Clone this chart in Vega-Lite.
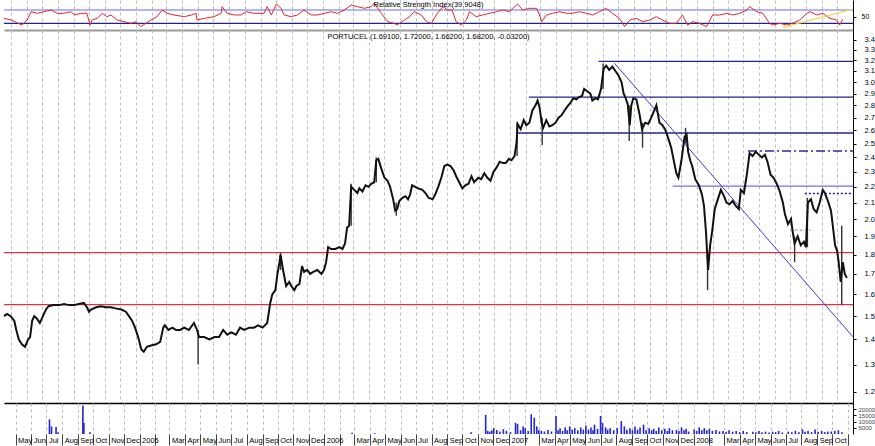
{
"$schema":"https://vega.github.io/schema/vega-lite/v6.json",
"padding":0,
"background":"white",
"spacing":0,
"resolve":{"scale":{"color":"independent","strokeDash":"independent"}},
"config":{"view":{"stroke":null},"font":"Liberation Sans","axis":{"labelFont":"Liberation Sans","labelFontSize":7.5,"labelColor":"#000","tickColor":"#000","domainColor":"#000","title":null},"title":{"font":"Liberation Sans","fontSize":7.5,"fontWeight":"normal","color":"#000"}},
"datasets":{
"price":[
{"d":"2004-04-18","c":1.50},{"d":"2004-04-24","c":1.51},{"d":"2004-05-01","c":1.50},{"d":"2004-05-08","c":1.48},{"d":"2004-05-12","c":1.44},{"d":"2004-05-17","c":1.40},{"d":"2004-05-23","c":1.38},{"d":"2004-05-29","c":1.37},{"d":"2004-06-04","c":1.40},{"d":"2004-06-08","c":1.41},{"d":"2004-06-12","c":1.48},{"d":"2004-06-16","c":1.50},{"d":"2004-06-21","c":1.49},{"d":"2004-06-27","c":1.47},{"d":"2004-07-03","c":1.50},{"d":"2004-07-09","c":1.53},{"d":"2004-07-14","c":1.545},{"d":"2004-07-24","c":1.55},{"d":"2004-08-04","c":1.55},{"d":"2004-08-13","c":1.555},{"d":"2004-08-23","c":1.55},{"d":"2004-09-02","c":1.55},{"d":"2004-09-11","c":1.555},{"d":"2004-09-21","c":1.56},{"d":"2004-09-27","c":1.54},{"d":"2004-10-01","c":1.52},{"d":"2004-10-05","c":1.53},{"d":"2004-10-15","c":1.54},{"d":"2004-10-24","c":1.545},{"d":"2004-11-03","c":1.54},{"d":"2004-11-13","c":1.54},{"d":"2004-11-22","c":1.535},{"d":"2004-12-03","c":1.53},{"d":"2004-12-12","c":1.52},{"d":"2004-12-18","c":1.50},{"d":"2004-12-24","c":1.48},{"d":"2004-12-30","c":1.45},
{"d":"2005-01-05","c":1.41},{"d":"2005-01-11","c":1.36},{"d":"2005-01-16","c":1.35},{"d":"2005-01-22","c":1.37},{"d":"2005-01-30","c":1.375},{"d":"2005-02-09","c":1.38},{"d":"2005-02-17","c":1.39},{"d":"2005-02-23","c":1.45},{"d":"2005-02-26","c":1.46},{"d":"2005-03-05","c":1.44},{"d":"2005-03-13","c":1.45},{"d":"2005-03-20","c":1.44},{"d":"2005-03-28","c":1.44},{"d":"2005-04-05","c":1.45},{"d":"2005-04-14","c":1.44},{"d":"2005-04-24","c":1.47},{"d":"2005-04-30","c":1.44},{"d":"2005-05-04","c":1.41},{"d":"2005-05-14","c":1.41},{"d":"2005-05-24","c":1.40},{"d":"2005-06-03","c":1.41},{"d":"2005-06-12","c":1.41},{"d":"2005-06-20","c":1.44},{"d":"2005-06-28","c":1.42},{"d":"2005-07-06","c":1.43},{"d":"2005-07-15","c":1.42},{"d":"2005-07-23","c":1.45},{"d":"2005-07-31","c":1.44},{"d":"2005-08-10","c":1.45},{"d":"2005-08-19","c":1.45},{"d":"2005-08-27","c":1.46},{"d":"2005-09-05","c":1.45},{"d":"2005-09-14","c":1.47},{"d":"2005-09-20","c":1.56},{"d":"2005-09-24","c":1.60},{"d":"2005-09-30","c":1.62},{"d":"2005-10-04","c":1.70},{"d":"2005-10-08","c":1.76},{"d":"2005-10-10","c":1.80},{"d":"2005-10-15","c":1.72},{"d":"2005-10-21","c":1.64},{"d":"2005-10-27","c":1.66},{"d":"2005-10-31","c":1.64},{"d":"2005-11-06","c":1.62},{"d":"2005-11-10","c":1.64},{"d":"2005-11-16","c":1.65},{"d":"2005-11-21","c":1.74},{"d":"2005-11-25","c":1.71},{"d":"2005-12-01","c":1.72},{"d":"2005-12-07","c":1.70},{"d":"2005-12-13","c":1.71},{"d":"2005-12-21","c":1.72},{"d":"2005-12-29","c":1.70},
{"d":"2006-01-03","c":1.72},{"d":"2006-01-07","c":1.76},{"d":"2006-01-11","c":1.84},{"d":"2006-01-17","c":1.83},{"d":"2006-01-25","c":1.83},{"d":"2006-02-02","c":1.84},{"d":"2006-02-08","c":1.83},{"d":"2006-02-13","c":1.86},{"d":"2006-02-17","c":1.95},{"d":"2006-02-21","c":1.96},{"d":"2006-02-25","c":2.20},{"d":"2006-03-03","c":2.18},{"d":"2006-03-09","c":2.16},{"d":"2006-03-13","c":2.19},{"d":"2006-03-19","c":2.17},{"d":"2006-03-25","c":2.21},{"d":"2006-03-31","c":2.20},{"d":"2006-04-05","c":2.22},{"d":"2006-04-11","c":2.23},{"d":"2006-04-15","c":2.38},{"d":"2006-04-19","c":2.39},{"d":"2006-04-25","c":2.32},{"d":"2006-05-01","c":2.26},{"d":"2006-05-07","c":2.24},{"d":"2006-05-12","c":2.20},{"d":"2006-05-18","c":2.12},{"d":"2006-05-22","c":2.05},{"d":"2006-05-26","c":2.06},{"d":"2006-05-30","c":2.11},{"d":"2006-06-05","c":2.13},{"d":"2006-06-11","c":2.14},{"d":"2006-06-16","c":2.12},{"d":"2006-06-20","c":2.15},{"d":"2006-06-24","c":2.21},{"d":"2006-06-30","c":2.20},{"d":"2006-07-06","c":2.19},{"d":"2006-07-14","c":2.18},{"d":"2006-07-20","c":2.16},{"d":"2006-07-26","c":2.13},{"d":"2006-08-03","c":2.12},{"d":"2006-08-08","c":2.15},{"d":"2006-08-14","c":2.20},{"d":"2006-08-20","c":2.26},{"d":"2006-08-26","c":2.34},{"d":"2006-09-01","c":2.35},{"d":"2006-09-07","c":2.34},{"d":"2006-09-13","c":2.31},{"d":"2006-09-18","c":2.27},{"d":"2006-09-24","c":2.23},{"d":"2006-09-30","c":2.19},{"d":"2006-10-06","c":2.21},{"d":"2006-10-12","c":2.22},{"d":"2006-10-18","c":2.27},{"d":"2006-10-23","c":2.23},{"d":"2006-10-31","c":2.26},{"d":"2006-11-06","c":2.25},{"d":"2006-11-12","c":2.29},{"d":"2006-11-18","c":2.26},{"d":"2006-11-24","c":2.24},{"d":"2006-11-30","c":2.30},{"d":"2006-12-06","c":2.33},{"d":"2006-12-12","c":2.37},{"d":"2006-12-18","c":2.36},{"d":"2006-12-24","c":2.36},{"d":"2006-12-30","c":2.39},
{"d":"2007-01-04","c":2.38},{"d":"2007-01-10","c":2.41},{"d":"2007-01-14","c":2.51},{"d":"2007-01-16","c":2.65},{"d":"2007-01-22","c":2.61},{"d":"2007-01-28","c":2.68},{"d":"2007-02-02","c":2.64},{"d":"2007-02-08","c":2.66},{"d":"2007-02-14","c":2.76},{"d":"2007-02-20","c":2.80},{"d":"2007-02-24","c":2.84},{"d":"2007-02-28","c":2.78},{"d":"2007-03-04","c":2.66},{"d":"2007-03-07","c":2.62},{"d":"2007-03-13","c":2.68},{"d":"2007-03-19","c":2.63},{"d":"2007-03-25","c":2.64},{"d":"2007-03-31","c":2.66},{"d":"2007-04-06","c":2.70},{"d":"2007-04-12","c":2.72},{"d":"2007-04-18","c":2.76},{"d":"2007-04-23","c":2.79},{"d":"2007-04-29","c":2.82},{"d":"2007-05-05","c":2.86},{"d":"2007-05-11","c":2.85},{"d":"2007-05-16","c":2.87},{"d":"2007-05-22","c":2.88},{"d":"2007-05-26","c":2.94},{"d":"2007-06-01","c":2.92},{"d":"2007-06-07","c":2.90},{"d":"2007-06-11","c":2.84},{"d":"2007-06-17","c":2.86},{"d":"2007-06-22","c":2.85},{"d":"2007-06-28","c":2.94},{"d":"2007-07-03","c":3.12},{"d":"2007-07-08","c":3.15},{"d":"2007-07-14","c":3.11},{"d":"2007-07-20","c":3.14},{"d":"2007-07-26","c":3.10},{"d":"2007-08-01","c":3.06},{"d":"2007-08-07","c":3.00},{"d":"2007-08-11","c":2.90},{"d":"2007-08-15","c":2.86},{"d":"2007-08-19","c":2.81},{"d":"2007-08-23","c":2.64},{"d":"2007-08-26","c":2.80},{"d":"2007-08-30","c":2.86},{"d":"2007-09-05","c":2.85},{"d":"2007-09-11","c":2.73},{"d":"2007-09-16","c":2.61},{"d":"2007-09-22","c":2.66},{"d":"2007-09-28","c":2.65},{"d":"2007-10-04","c":2.70},{"d":"2007-10-10","c":2.76},{"d":"2007-10-14","c":2.80},{"d":"2007-10-20","c":2.66},{"d":"2007-10-26","c":2.64},{"d":"2007-11-01","c":2.60},{"d":"2007-11-07","c":2.53},{"d":"2007-11-12","c":2.47},{"d":"2007-11-18","c":2.36},{"d":"2007-11-22","c":2.29},{"d":"2007-11-26","c":2.26},{"d":"2007-12-02","c":2.38},{"d":"2007-12-08","c":2.55},{"d":"2007-12-12","c":2.57},{"d":"2007-12-15","c":2.44},{"d":"2007-12-19","c":2.38},{"d":"2007-12-23","c":2.34},{"d":"2007-12-29","c":2.25},
{"d":"2008-01-05","c":2.21},{"d":"2008-01-11","c":2.15},{"d":"2008-01-15","c":2.08},{"d":"2008-01-19","c":1.92},{"d":"2008-01-23","c":1.72},{"d":"2008-01-27","c":1.85},{"d":"2008-01-31","c":1.93},{"d":"2008-02-05","c":2.06},{"d":"2008-02-11","c":2.12},{"d":"2008-02-17","c":2.18},{"d":"2008-02-23","c":2.14},{"d":"2008-02-28","c":2.10},{"d":"2008-03-05","c":2.09},{"d":"2008-03-11","c":2.11},{"d":"2008-03-17","c":2.08},{"d":"2008-03-23","c":2.06},{"d":"2008-03-27","c":2.18},{"d":"2008-04-02","c":2.16},{"d":"2008-04-08","c":2.29},{"d":"2008-04-13","c":2.43},{"d":"2008-04-19","c":2.41},{"d":"2008-04-25","c":2.44},{"d":"2008-05-01","c":2.42},{"d":"2008-05-07","c":2.40},{"d":"2008-05-13","c":2.42},{"d":"2008-05-18","c":2.37},{"d":"2008-05-24","c":2.28},{"d":"2008-05-30","c":2.26},{"d":"2008-06-05","c":2.22},{"d":"2008-06-11","c":2.17},{"d":"2008-06-17","c":2.10},{"d":"2008-06-21","c":2.03},{"d":"2008-06-27","c":1.97},{"d":"2008-07-03","c":2.00},{"d":"2008-07-06","c":1.93},{"d":"2008-07-10","c":1.86},{"d":"2008-07-16","c":1.90},{"d":"2008-07-22","c":1.85},{"d":"2008-07-28","c":1.87},{"d":"2008-08-01","c":1.84},{"d":"2008-08-05","c":2.10},{"d":"2008-08-11","c":2.12},{"d":"2008-08-16","c":2.06},{"d":"2008-08-22","c":2.04},{"d":"2008-08-28","c":2.10},{"d":"2008-09-03","c":2.18},{"d":"2008-09-07","c":2.16},{"d":"2008-09-13","c":2.11},{"d":"2008-09-19","c":2.05},{"d":"2008-09-23","c":1.95},{"d":"2008-09-27","c":1.85},{"d":"2008-10-01","c":1.82},{"d":"2008-10-04","c":1.76},{"d":"2008-10-08","c":1.66},{"d":"2008-10-12","c":1.76},{"d":"2008-10-16","c":1.70},{"d":"2008-10-20","c":1.68}
],
"spikes":[
{"d":"2005-05-02","lo":1.30,"hi":1.44},{"d":"2005-10-10","lo":1.72,"hi":1.81},{"d":"2006-02-25","lo":1.96,"hi":2.22},{"d":"2006-04-15","lo":2.23,"hi":2.40},{"d":"2006-05-24","lo":2.02,"hi":2.10},{"d":"2007-01-15","lo":2.41,"hi":2.66},{"d":"2007-03-05","lo":2.49,"hi":2.70},{"d":"2007-07-02","lo":2.94,"hi":3.17},{"d":"2007-08-22","lo":2.52,"hi":2.80},{"d":"2007-09-17","lo":2.47,"hi":2.66},{"d":"2007-12-10","lo":2.50,"hi":2.62},{"d":"2008-01-22","lo":1.62,"hi":1.80},{"d":"2008-07-10","lo":1.76,"hi":1.90},{"d":"2008-08-04","lo":1.84,"hi":2.13},{"d":"2008-10-10","lo":1.55,"hi":1.96}
],
"levels":[
{"s":"2007-06-23","e":"2008-11-01","p":3.19,"k":"res"},
{"s":"2007-02-07","e":"2008-11-01","p":2.87,"k":"res"},
{"s":"2007-01-14","e":"2008-11-01","p":2.58,"k":"res"},
{"s":"2008-04-10","e":"2008-11-01","p":2.446,"k":"dashdot"},
{"s":"2007-11-15","e":"2008-11-01","p":2.204,"k":"light"},
{"s":"2008-07-30","e":"2008-11-01","p":2.157,"k":"dotted"},
{"s":"2008-07-10","e":"2008-08-11","p":1.935,"k":"gray"},
{"s":"2004-04-18","e":"2008-11-01","p":1.811,"k":"red"},
{"s":"2004-04-18","e":"2008-11-01","p":1.552,"k":"red"}
],
"trend":[{"s":"2007-07-24","e":"2008-11-01","p1":3.173,"p2":1.411}],
"rsiLevels":[{"v":70,"k":"upper"},{"v":30,"k":"lower"}],
"rsiTrend":[{"d":"2008-06-17","r":18},{"d":"2008-10-30","r":72}],
"rsi":[
{"d":"2004-04-18","r":45},{"d":"2004-05-02","r":40},{"d":"2004-05-13","r":32},{"d":"2004-05-23","r":25},{"d":"2004-06-02","r":40},{"d":"2004-06-10","r":65},{"d":"2004-06-22","r":60},{"d":"2004-07-05","r":65},{"d":"2004-07-19","r":70},{"d":"2004-07-31","r":60},{"d":"2004-08-13","r":60},{"d":"2004-08-27","r":65},{"d":"2004-09-02","r":55},{"d":"2004-09-15","r":60},{"d":"2004-09-27","r":60},{"d":"2004-10-03","r":25},{"d":"2004-10-07","r":40},{"d":"2004-10-17","r":45},{"d":"2004-10-27","r":60},{"d":"2004-11-05","r":50},{"d":"2004-11-13","r":55},{"d":"2004-11-25","r":40},{"d":"2004-12-08","r":35},{"d":"2004-12-22","r":30},{"d":"2005-01-01","r":35},{"d":"2005-01-10","r":20},{"d":"2005-01-20","r":30},{"d":"2005-01-30","r":40},{"d":"2005-02-11","r":50},{"d":"2005-02-21","r":70},{"d":"2005-03-03","r":60},{"d":"2005-03-16","r":55},{"d":"2005-04-05","r":50},{"d":"2005-04-19","r":55},{"d":"2005-04-28","r":60},{"d":"2005-04-30","r":40},{"d":"2005-05-14","r":45},{"d":"2005-06-02","r":50},{"d":"2005-06-16","r":60},{"d":"2005-06-18","r":80},{"d":"2005-06-28","r":60},{"d":"2005-07-12","r":55},{"d":"2005-07-25","r":55},{"d":"2005-08-04","r":65},{"d":"2005-08-19","r":60},{"d":"2005-09-08","r":60},{"d":"2005-09-14","r":80},{"d":"2005-09-22","r":55},{"d":"2005-10-02","r":88},{"d":"2005-10-11","r":75},{"d":"2005-10-17","r":55},{"d":"2005-10-31","r":50},{"d":"2005-11-12","r":55},{"d":"2005-11-25","r":70},{"d":"2005-12-09","r":55},{"d":"2005-12-21","r":55},{"d":"2006-01-04","r":60},{"d":"2006-01-17","r":65},{"d":"2006-01-29","r":60},{"d":"2006-02-12","r":70},{"d":"2006-02-25","r":85},{"d":"2006-03-09","r":80},{"d":"2006-03-23","r":75},{"d":"2006-04-05","r":80},{"d":"2006-04-11","r":90},{"d":"2006-04-25","r":60},{"d":"2006-05-07","r":35},{"d":"2006-05-20","r":30},{"d":"2006-05-26","r":25},{"d":"2006-06-09","r":40},{"d":"2006-06-19","r":50},{"d":"2006-06-28","r":65},{"d":"2006-07-12","r":55},{"d":"2006-07-22","r":35},{"d":"2006-08-01","r":30},{"d":"2006-08-10","r":55},{"d":"2006-08-20","r":75},{"d":"2006-08-26","r":80},{"d":"2006-08-30","r":70},{"d":"2006-09-10","r":70},{"d":"2006-09-18","r":35},{"d":"2006-09-28","r":25},{"d":"2006-10-08","r":40},{"d":"2006-10-14","r":65},{"d":"2006-10-27","r":50},{"d":"2006-11-08","r":55},{"d":"2006-11-22","r":60},{"d":"2006-12-06","r":65},{"d":"2006-12-18","r":70},{"d":"2006-12-31","r":65},{"d":"2007-01-16","r":88},{"d":"2007-01-26","r":70},{"d":"2007-02-08","r":75},{"d":"2007-02-22","r":75},{"d":"2007-02-28","r":55},{"d":"2007-03-04","r":35},{"d":"2007-03-13","r":55},{"d":"2007-03-25","r":60},{"d":"2007-04-08","r":65},{"d":"2007-04-22","r":60},{"d":"2007-05-03","r":60},{"d":"2007-05-17","r":65},{"d":"2007-05-31","r":60},{"d":"2007-06-12","r":55},{"d":"2007-06-25","r":65},{"d":"2007-07-08","r":75},{"d":"2007-07-20","r":60},{"d":"2007-08-03","r":45},{"d":"2007-08-13","r":20},{"d":"2007-08-23","r":40},{"d":"2007-09-05","r":45},{"d":"2007-09-17","r":35},{"d":"2007-10-01","r":40},{"d":"2007-10-14","r":50},{"d":"2007-10-26","r":40},{"d":"2007-11-09","r":30},{"d":"2007-11-22","r":30},{"d":"2007-12-04","r":55},{"d":"2007-12-14","r":25},{"d":"2007-12-24","r":35},{"d":"2008-01-06","r":30},{"d":"2008-01-20","r":20},{"d":"2008-02-01","r":55},{"d":"2008-02-14","r":55},{"d":"2008-02-28","r":60},{"d":"2008-03-11","r":55},{"d":"2008-03-25","r":60},{"d":"2008-04-08","r":70},{"d":"2008-04-13","r":80},{"d":"2008-04-27","r":65},{"d":"2008-05-09","r":60},{"d":"2008-05-22","r":30},{"d":"2008-05-28","r":25},{"d":"2008-06-11","r":30},{"d":"2008-06-25","r":25},{"d":"2008-07-06","r":30},{"d":"2008-07-20","r":40},{"d":"2008-08-03","r":60},{"d":"2008-08-09","r":65},{"d":"2008-08-22","r":55},{"d":"2008-09-03","r":60},{"d":"2008-09-17","r":45},{"d":"2008-09-30","r":40},{"d":"2008-10-06","r":25},{"d":"2008-10-12","r":42}
],
"volume":[
{"d":"2004-07-07","v":11700},{"d":"2004-07-11","v":6000},{"d":"2004-07-20","v":5600},{"d":"2004-07-24","v":1500},{"d":"2004-09-11","v":22800},{"d":"2004-09-13","v":8900},{"d":"2004-09-25","v":1400},{"d":"2006-02-25","v":1000},{"d":"2006-04-11","v":700},{"d":"2006-10-18","v":1400},{"d":"2006-11-16","v":15200},{"d":"2006-11-20","v":2500},{"d":"2006-11-24","v":1900},{"d":"2006-11-28","v":3000},{"d":"2006-12-02","v":4700},{"d":"2006-12-08","v":3300},{"d":"2006-12-14","v":2000},{"d":"2006-12-21","v":3900},{"d":"2006-12-27","v":2500},{"d":"2007-01-04","v":1500},{"d":"2007-01-14","v":8900},{"d":"2007-01-18","v":8000},{"d":"2007-01-24","v":3000},{"d":"2007-01-29","v":6100},{"d":"2007-02-02","v":4700},{"d":"2007-02-08","v":2500},{"d":"2007-02-14","v":15800},{"d":"2007-02-20","v":13000},{"d":"2007-02-25","v":6100},{"d":"2007-03-01","v":3000},{"d":"2007-03-06","v":2500},{"d":"2007-03-12","v":2000},{"d":"2007-03-19","v":3300},{"d":"2007-03-26","v":2000},{"d":"2007-04-04","v":14400},{"d":"2007-04-08","v":3000},{"d":"2007-04-12","v":4700},{"d":"2007-04-17","v":2500},{"d":"2007-04-22","v":5300},{"d":"2007-04-26","v":3000},{"d":"2007-05-01","v":6100},{"d":"2007-05-06","v":3500},{"d":"2007-05-11","v":4700},{"d":"2007-05-17","v":3000},{"d":"2007-05-23","v":5300},{"d":"2007-05-28","v":3500},{"d":"2007-06-02","v":6900},{"d":"2007-06-07","v":3500},{"d":"2007-06-12","v":5300},{"d":"2007-06-16","v":3000},{"d":"2007-06-19","v":7500},{"d":"2007-06-25","v":4000},{"d":"2007-07-01","v":14400},{"d":"2007-07-05","v":8900},{"d":"2007-07-11","v":5300},{"d":"2007-07-15","v":3500},{"d":"2007-07-20","v":4700},{"d":"2007-07-27","v":3000},{"d":"2007-08-03","v":4700},{"d":"2007-08-11","v":10300},{"d":"2007-08-17","v":6100},{"d":"2007-08-22","v":3500},{"d":"2007-08-28","v":4700},{"d":"2007-09-02","v":3000},{"d":"2007-09-07","v":6100},{"d":"2007-09-12","v":3500},{"d":"2007-09-17","v":5300},{"d":"2007-09-24","v":7500},{"d":"2007-09-29","v":3000},{"d":"2007-10-05","v":4700},{"d":"2007-10-10","v":3000},{"d":"2007-10-14","v":4200},{"d":"2007-10-19","v":2500},{"d":"2007-10-24","v":5300},{"d":"2007-10-30","v":3000},{"d":"2007-11-05","v":4200},{"d":"2007-11-10","v":2500},{"d":"2007-11-14","v":4700},{"d":"2007-11-20","v":3000},{"d":"2007-11-28","v":3300},{"d":"2007-12-03","v":2500},{"d":"2007-12-08","v":5300},{"d":"2007-12-13","v":3000},{"d":"2007-12-17","v":4200},{"d":"2007-12-22","v":2000},{"d":"2008-01-02","v":3600},{"d":"2008-01-07","v":2500},{"d":"2008-01-12","v":5300},{"d":"2008-01-17","v":3000},{"d":"2008-01-22","v":4700},{"d":"2008-01-27","v":3000},{"d":"2008-02-01","v":4200},{"d":"2008-02-07","v":2500},{"d":"2008-02-14","v":3300},{"d":"2008-02-21","v":2000},{"d":"2008-02-28","v":2500},{"d":"2008-03-05","v":1800},{"d":"2008-03-11","v":3000},{"d":"2008-03-18","v":1800},{"d":"2008-03-25","v":2500},{"d":"2008-04-01","v":1500},{"d":"2008-04-08","v":2500},{"d":"2008-04-15","v":1500},{"d":"2008-04-27","v":1900},{"d":"2008-05-03","v":1500},{"d":"2008-05-09","v":2500},{"d":"2008-05-15","v":1500},{"d":"2008-05-22","v":1900},{"d":"2008-05-29","v":1200},{"d":"2008-06-05","v":1900},{"d":"2008-06-11","v":1500},{"d":"2008-06-17","v":2500},{"d":"2008-06-24","v":1200},{"d":"2008-07-06","v":1900},{"d":"2008-07-13","v":1500},{"d":"2008-07-20","v":2500},{"d":"2008-07-27","v":1500},{"d":"2008-08-03","v":3600},{"d":"2008-08-08","v":1800},{"d":"2008-08-14","v":2500},{"d":"2008-08-21","v":1500},{"d":"2008-08-28","v":3600},{"d":"2008-09-03","v":1800},{"d":"2008-09-10","v":2500},{"d":"2008-09-16","v":1500},{"d":"2008-09-22","v":1900},{"d":"2008-09-29","v":2000},{"d":"2008-10-06","v":2500},{"d":"2008-10-13","v":3000},{"d":"2008-10-20","v":1500}
]
},
"vconcat":[
{
"width":849,"height":30,
"title":{"text":"Relative Strength Index(39.9048)","offset":-8,"anchor":"middle","frame":"group"},
"layer":[
{"data":{"name":"rsiLevels"},"mark":{"type":"rule","strokeWidth":1.2},
 "encoding":{"y":{"field":"v","type":"quantitative","scale":{"domain":[10,100],"nice":false,"zero":false},"axis":{"orient":"right","values":[50],"tickSize":3,"labelPadding":5,"grid":false,"labelFontSize":7}},
 "color":{"field":"k","type":"nominal","scale":{"domain":["upper","lower"],"range":["#6a6aee","#22228c"]},"legend":null}}},
{"data":{"name":"rsi"},"mark":{"type":"line","color":"#e3262e","strokeWidth":1,"clip":true},
 "encoding":{"x":{"field":"d","type":"temporal","scale":{"type":"utc","domain":[{"year":2004,"month":4,"date":18,"utc":true},{"year":2008,"month":11,"date":1,"utc":true}]},
   "axis":{"orient":"bottom","labels":false,"ticks":false,"domain":true,"domainColor":"#9a9a9a","domainWidth":2,"grid":true,"gridColor":"#bdbdbd","gridDash":[3,3],"gridWidth":1,"tickCount":{"interval":"month","step":1}}},
  "y":{"field":"r","type":"quantitative","scale":{"domain":[10,100],"nice":false,"zero":false}}}},
{"data":{"name":"rsiTrend"},"mark":{"type":"line","color":"#ecd858","strokeWidth":1.2,"clip":true},
 "encoding":{"x":{"field":"d","type":"temporal"},"y":{"field":"r","type":"quantitative"}}}
]
},
{
"width":849,"height":373,
"title":{"text":"PORTUCEL (1.69100, 1.72000, 1.66200, 1.68200, -0.03200)","offset":-10,"anchor":"middle","frame":"group"},
"layer":[
{"data":{"name":"levels"},"mark":{"type":"rule","strokeWidth":1.3},
 "encoding":{"x":{"field":"s","type":"temporal","scale":{"type":"utc","domain":[{"year":2004,"month":4,"date":18,"utc":true},{"year":2008,"month":11,"date":1,"utc":true}]},
   "axis":{"orient":"bottom","labels":false,"ticks":false,"domain":true,"domainColor":"#000","domainWidth":1.5,"grid":true,"gridColor":"#bdbdbd","gridDash":[3,3],"gridWidth":1,"tickCount":{"interval":"month","step":1}}},
  "x2":{"field":"e"},
  "y":{"field":"p","type":"quantitative","scale":{"type":"log","domain":[1.16,3.5],"nice":false,"zero":false},
   "axis":{"orient":"right","values":[1.2,1.3,1.4,1.5,1.6,1.7,1.8,1.9,2.0,2.1,2.2,2.3,2.4,2.5,2.6,2.7,2.8,2.9,3.0,3.1,3.2,3.3,3.4],"format":".1f","tickSize":3,"labelPadding":8,"grid":false,"labelFontSize":7.5}},
  "color":{"field":"k","type":"nominal","scale":{"domain":["res","dashdot","light","dotted","gray","red"],"range":["#24248e","#2a2a9c","#7070f0","#22229e","#9c9cd6","#dc3344"]},"legend":null},
  "strokeDash":{"field":"k","type":"nominal","scale":{"domain":["res","dashdot","light","dotted","gray","red"],"range":[[1,0],[9,3,2,3],[1,0],[2,2],[3,2],[1,0]]},"legend":null}}},
{"data":{"name":"trend"},"mark":{"type":"rule","color":"#3f3fcf","strokeWidth":1},
 "encoding":{"x":{"field":"s","type":"temporal"},"x2":{"field":"e"},"y":{"field":"p1","type":"quantitative"},"y2":{"field":"p2"}}},
{"data":{"name":"spikes"},"mark":{"type":"rule","color":"#333","strokeWidth":1.4},
 "encoding":{"x":{"field":"d","type":"temporal"},"y":{"field":"lo","type":"quantitative"},"y2":{"field":"hi"}}},
{"data":{"name":"price"},"mark":{"type":"line","color":"#111","strokeWidth":2},
 "encoding":{"x":{"field":"d","type":"temporal"},"y":{"field":"c","type":"quantitative"}}}
]
},
{
"width":849,"height":31,
"layer":[
{"data":{"name":"volume"},"mark":{"type":"bar","color":"#2424d8","size":1.6},
 "encoding":{"x":{"field":"d","type":"temporal","scale":{"type":"utc","domain":[{"year":2004,"month":4,"date":18,"utc":true},{"year":2008,"month":11,"date":1,"utc":true}]},
   "axis":{"orient":"bottom","domain":false,"grid":true,"gridColor":"#bdbdbd","gridDash":[3,3],"gridWidth":1,"tickCount":{"interval":"month","step":1},"tickSize":11,"tickColor":"#444","labelPadding":-9,"labelAlign":"left","labelBaseline":"top","labelOffset":2,"labelOverlap":false,"labelFlush":false,"labelBound":false,"labelFontSize":7.5,
    "labelExpr":"(utcyear(datum.value)==2008 && utcmonth(datum.value)==10) ? '' : (utcmonth(datum.value)==0 ? utcFormat(datum.value,'%Y') : (utcmonth(datum.value)==1 ? '' : utcFormat(datum.value,'%b')))"}},
  "y":{"field":"v","type":"quantitative","scale":{"domain":[0,24800],"nice":false},"axis":{"orient":"right","values":[5000,10000,15000,20000],"format":"d","tickSize":3,"labelPadding":2,"grid":false,"labelFontSize":6,"labelColor":"#444"}}}}
]
}
]
}
